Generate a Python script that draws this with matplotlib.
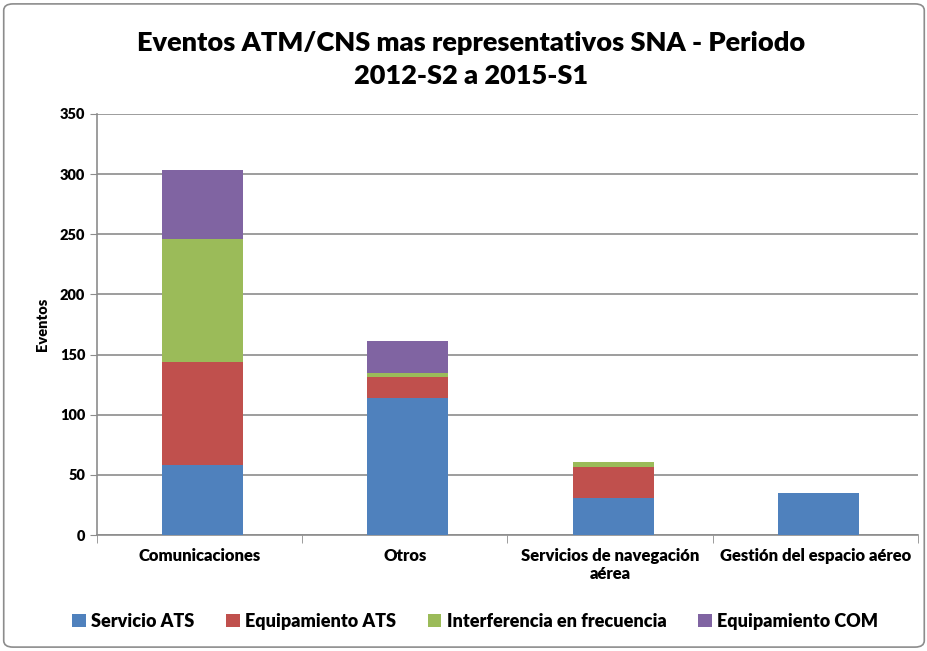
import numpy as np
import matplotlib.pyplot as plt
from matplotlib.patches import FancyBboxPatch

plt.rcParams['font.family'] = ['Lato', 'DejaVu Sans']
plt.rcParams['font.weight'] = 'bold'

# datos
categorias = ['Comunicaciones', 'Otros', 'Servicios de navegación\naérea', 'Gestión del espacio aéreo']
servicio_ats = [58, 114, 31, 35]
equipamiento_ats = [86, 17, 26, 0]
interferencia = [102, 4, 4, 0]
equipamiento_com = [57, 26, 0, 0]

series = ['Servicio ATS', 'Equipamiento ATS', 'Interferencia en frecuencia', 'Equipamiento COM']
colores = ['#4F81BD', '#C0504D', '#9BBB59', '#8064A2']

fig = plt.figure(figsize=(9.28, 6.51), dpi=100)
ax = fig.add_axes([0.1045, 0.178, 0.8845, 0.647])

x = np.arange(len(categorias))
base = np.zeros(len(categorias))
for nombre, valores, color in zip(series, [servicio_ats, equipamiento_ats, interferencia, equipamiento_com], colores):
    ax.bar(x + 0.015, valores, width=0.395, bottom=base, color=color, label=nombre, zorder=3)
    base += np.array(valores)

ax.set_xlim(-0.5, len(categorias) - 0.5)
ax.set_ylim(0, 350)
ax.set_yticks(range(0, 351, 50))
ax.yaxis.grid(True, color='#8c8c8c', linewidth=1.2, zorder=0)
ax.set_xticks(x)
ax.set_xticklabels(categorias, fontsize=12, fontweight='heavy')
ax.set_xticks(np.arange(-0.5, len(categorias)), minor=True)
ax.tick_params(axis='x', which='major', length=0, pad=9)
ax.tick_params(axis='x', which='minor', length=6, color='#8c8c8c')
ax.tick_params(axis='y', length=5, color='#8c8c8c', labelsize=10.5)
for lbl in ax.get_yticklabels():
    lbl.set_fontweight('heavy')
for s in ['top', 'right']:
    ax.spines[s].set_visible(False)
for s in ['left', 'bottom']:
    ax.spines[s].set_color('#8c8c8c')
    ax.spines[s].set_linewidth(1.2)
ax.set_ylabel('Eventos', fontsize=10.5, fontweight='heavy', labelpad=8)

fig.text(0.508, 0.908, 'Eventos ATM/CNS mas representativos SNA - Periodo\n2012-S2 a 2015-S1',
         ha='center', va='center', fontsize=19.5, fontweight='heavy', linespacing=1.45)

fig.legend(loc='center', bbox_to_anchor=(0.512, 0.046), ncol=4, frameon=False,
           handlelength=0.75, handleheight=0.75, handletextpad=0.3,
           columnspacing=1.75, prop={'weight': 'heavy', 'size': 13})

marco = FancyBboxPatch((0.004, 0.006), 0.992, 0.988, boxstyle='round,pad=0,rounding_size=0.01',
                       transform=fig.transFigure, fill=False, edgecolor='#8c8c8c', linewidth=1.2)
fig.patches.append(marco)

plt.savefig('out.png', dpi=100)
